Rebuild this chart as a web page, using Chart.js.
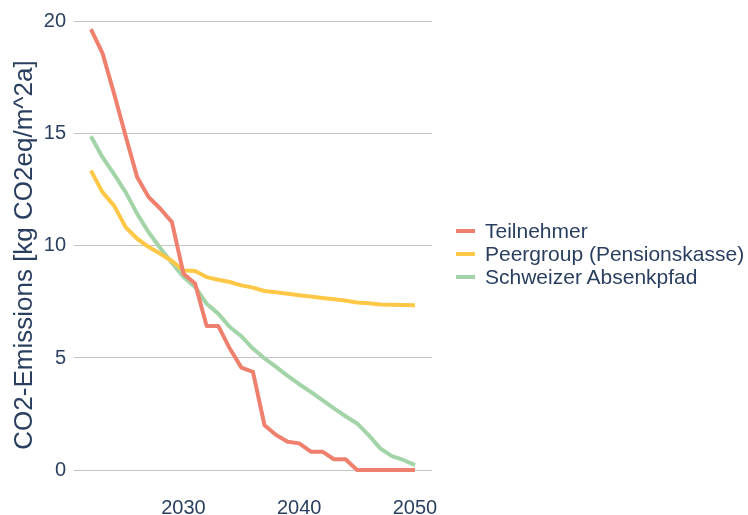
<!DOCTYPE html>
<html>
<head>
<meta charset="utf-8">
<script src="https://cdn.jsdelivr.net/npm/chart.js@4"></script>
<style>
  html, body { margin: 0; padding: 0; background: #fff; }
  #wrap { width: 748px; height: 515px; position: relative; }
  #legend {
    position: absolute; left: 456px; top: 219px;
    font-family: "Liberation Sans", Arial, sans-serif; font-size: 21px; color: #2a3f5f;
  }
  #legend .item { display: flex; align-items: center; height: 23px; white-space: nowrap; }
  #legend .swatch { width: 19px; height: 4px; margin-right: 10px; }
</style>
</head>
<body>
<div id="wrap"><canvas id="chart"></canvas><div id="legend"></div></div>
<script>
const years = [2022, 2023, 2024, 2025, 2026, 2027, 2028, 2029, 2030, 2031,
               2032, 2033, 2034, 2035, 2036, 2037, 2038, 2039, 2040, 2041,
               2042, 2043, 2044, 2045, 2046, 2047, 2048, 2049, 2050];

const teilnehmer = [19.67, 18.6, 16.8, 14.9, 13.06, 12.17, 11.66, 11.06, 8.76, 8.32,
                    6.43, 6.43, 5.42, 4.57, 4.38, 2.0, 1.56, 1.26, 1.19, 0.82,
                    0.82, 0.48, 0.48, 0, 0, 0, 0, 0, 0];

const peergroup = [13.36, 12.4, 11.8, 10.84, 10.32, 9.95, 9.65, 9.33, 8.9, 8.88,
                   8.61, 8.49, 8.39, 8.24, 8.14, 7.99, 7.93, 7.87, 7.8, 7.74,
                   7.68, 7.62, 7.56, 7.48, 7.44, 7.39, 7.37, 7.36, 7.35];

const absenkpfad = [14.89, 13.96, 13.2, 12.4, 11.43, 10.6, 9.9, 9.25, 8.61, 8.17,
                    7.42, 6.98, 6.38, 5.97, 5.42, 4.98, 4.6, 4.2, 3.83, 3.49,
                    3.12, 2.75, 2.4, 2.08, 1.56, 0.97, 0.62, 0.45, 0.22];

const xTicks = [2030, 2040, 2050];
const yTicks = [0, 5, 10, 15, 20];

const seriesNames = ['Teilnehmer', 'Peergroup (Pensionskasse)', 'Schweizer Absenkpfad'];
const seriesColors = ['rgb(240,128,110)', 'rgb(255,199,70)', 'rgb(163,212,168)'];

const textColor = '#2a3f5f';
const fontFamily = '"Liberation Sans", Arial, sans-serif';

// build {x, y} points from the arrays
function toPoints(values) {
    return years.map((yr, i) => ({ x: yr, y: values[i] }));
}

const datasets = [teilnehmer, peergroup, absenkpfad].map((vals, i) => ({
    label: seriesNames[i],
    data: toPoints(vals),
    borderColor: seriesColors[i],
    backgroundColor: seriesColors[i],
    borderWidth: 4,
    pointRadius: 0,
    tension: 0,
    borderJoinStyle: 'round',
    fill: false
}));

const chart = new Chart(document.getElementById('chart'), {
    type: 'line',
    data: { datasets: datasets },
    options: {
        responsive: true,
        maintainAspectRatio: false,
        animation: false,
        layout: { padding: { top: 8, right: 316, bottom: 0, left: 0 } },
        plugins: {
            tooltip: { enabled: false },
            legend: { display: false }
        },
        scales: {
            x: {
                type: 'linear',
                min: 2020.54,
                max: 2051.47,
                afterBuildTicks: s => { s.ticks = xTicks.map(v => ({ value: v })); },
                afterFit: s => { s.height = 25; },
                grid: { display: false, drawTicks: false },
                border: { display: false },
                ticks: {
                    padding: 6,
                    color: textColor,
                    font: { family: fontFamily, size: 20 },
                    callback: v => String(v)
                }
            },
            y: {
                min: -0.89,
                max: 20.08,
                afterBuildTicks: s => { s.ticks = yTicks.map(v => ({ value: v })); },
                afterFit: s => { s.width = 74; },
                grid: { color: 'rgb(196,196,196)', lineWidth: 1, drawTicks: false },
                border: { display: false },
                ticks: {
                    padding: 8,
                    color: textColor,
                    font: { family: fontFamily, size: 20 }
                },
                title: {
                    display: true,
                    text: 'CO2-Emissions [kg CO2eq/m^2a]',
                    color: textColor,
                    font: { family: fontFamily, size: 26 },
                    padding: { top: 9, bottom: 0 }
                }
            }
        }
    }
});

// legend as html, built from the chart's datasets
const legendEl = document.getElementById('legend');
chart.data.datasets.forEach(ds => {
    const item = document.createElement('div');
    item.className = 'item';
    item.innerHTML = `<span class="swatch" style="background:${ds.borderColor}"></span><span>${ds.label}</span>`;
    legendEl.appendChild(item);
});
</script>
</body>
</html>
